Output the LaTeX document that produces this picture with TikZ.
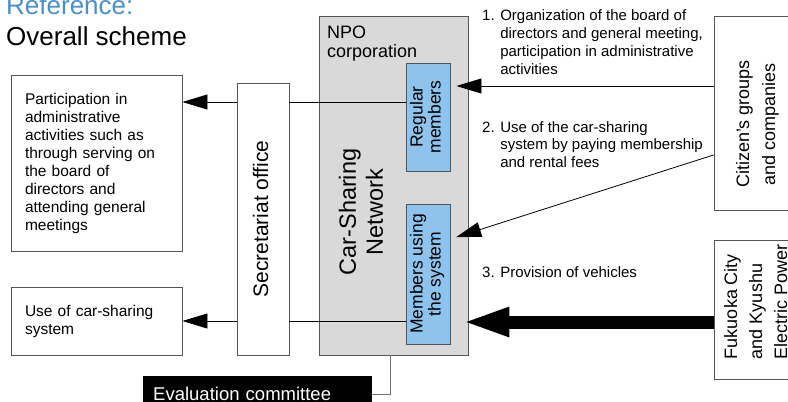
\documentclass[tikz,border=0pt]{standalone}
\usepackage{fontspec}
\setmainfont{Liberation Sans}
\usepackage{graphicx}
\usetikzlibrary{arrows.meta}
\definecolor{npogrey}{HTML}{D9D9D9}
\definecolor{memblue}{HTML}{8DC3EC}
\definecolor{edgegrey}{HTML}{555555}
\definecolor{titleblue}{HTML}{4A90C8}
\definecolor{evgrey}{HTML}{707070}
\newcommand{\rotlines}[4]{\rotatebox{90}{\fontsize{#1}{#2}\selectfont\begin{tabular}{@{}#3@{}}#4\end{tabular}}}
\begin{document}
\begin{tikzpicture}[x=1pt,y=-1pt,
  box/.style={draw=edgegrey, line width=0.9pt, fill=white, inner sep=0pt},
  bluebox/.style={draw=edgegrey, line width=0.9pt, fill=memblue, inner sep=0pt},
  leftbox/.style={box, minimum width=171pt, text width=143pt, inner xsep=14pt, align=left, font=\fontsize{15.5}{18}\selectfont},
  lbl/.style={anchor=base west, inner sep=0pt, font=\fontsize{15}{18}\selectfont},
  plainline/.style={draw=black, line width=0.8pt},
  thinarrow/.style={plainline, -{Triangle[length=25pt,width=15pt]}},
  bigarrow/.style={draw=black, line width=13pt, -{Triangle[length=43pt,width=31pt,line width=0pt]}},
  evline/.style={draw=evgrey, line width=0.9pt}]
\useasboundingbox (0,0) rectangle (788,402);
\clip (0,0) rectangle (788,402);
\fill[white] (0,0) rectangle (788,402);

% titles
\node[anchor=base west, inner sep=0pt, font=\fontsize{26}{30}\selectfont, text=titleblue] (ref) at (6,14) {Reference:};
\node[anchor=base west, inner sep=0pt, font=\fontsize{26}{30}\selectfont] (ovs) at (6,45) {Overall scheme};

% left boxes
\node[leftbox, minimum height=176pt] (part) at (96.5,163) {Participation in\\administrative\\activities such as\\through serving on\\the board of\\directors and\\attending general\\meetings};
\node[leftbox, minimum height=68pt] (use) at (96.5,321) {Use of car-sharing\\system};

% secretariat
\node[box, minimum width=52pt, minimum height=272pt] (sec) at (263,219) {\rotlines{21}{25}{c}{Secretariat office}};

% NPO corporation
\node[draw=edgegrey, fill=npogrey, line width=0.9pt, minimum width=149pt, minimum height=339pt, inner sep=0pt] (npo) at (393.5,185.5) {};
\node[anchor=base west, inner sep=0pt, font=\fontsize{18}{18.5}\selectfont] (npolbl) at (327,38.5) {\begin{tabular}[t]{@{}l@{}}NPO\\corporation\end{tabular}};
\node[inner sep=0pt] (csn) at (364,212) {\rotlines{23.5}{27}{c}{Car-Sharing\\Network}};
\node[bluebox, minimum width=44pt, minimum height=108pt] (reg) at (428,117) {\rotlines{17.5}{18}{c}{Regular\\members}};
\node[bluebox, minimum width=44pt, minimum height=140pt] (mem) at (428,274) {\rotlines{17.5}{18}{c}{Members using\\the system}};

% right boxes
\node[box, minimum width=86pt, minimum height=194pt] (cit) at (757,113) {\rotatebox{90}{\fontsize{18}{26}\selectfont\begin{tabular}{@{}c@{}}Citizen’s groups\\and companies\end{tabular}\hspace{22pt}}};
\node[box, minimum width=86pt, minimum height=139pt] (fuk) at (757,309.5) {\rotatebox{90}{\hspace{16pt}\fontsize{18}{25}\selectfont\begin{tabular}{@{}l@{}}Fukuoka City\\and Kyushu\\Electric Power\end{tabular}}};

% evaluation committee
\node[fill=black, text=white, anchor=north west, minimum width=229pt, minimum height=36pt, text width=209pt, inner xsep=10pt, inner ysep=0pt, align=left, font=\fontsize{18.5}{22}\selectfont] (eval) at (143,376) {Evaluation committee};

% labels
\node[lbl] (l1) at (482,20.5) {\begin{tabular}[t]{@{}l@{ }l@{}}1.&Organization of the board of\\&directors and general meeting,\\&participation in administrative\\&activities\end{tabular}};
\node[lbl, font=\fontsize{15}{17.5}\selectfont] (l2) at (482,132) {\begin{tabular}[t]{@{}l@{ }l@{}}2.&Use of the car-sharing\\&system by paying membership\\&and rental fees\end{tabular}};
\node[lbl] (l3) at (482,277) {3. Provision of vehicles};

% connector levels
\coordinate (ya) at (0,86);
\coordinate (yb) at (0,102);
\coordinate (yc) at (0,321);
\coordinate (yd) at (0,322);
\coordinate (ye) at (0,155);
\coordinate (yf) at (0,239);

% connectors
\draw[thinarrow, shorten >=6pt] (cit.west |- ya) -- (reg.east |- ya);
\draw[thinarrow, shorten >=6pt] (cit.west |- ye) -- (mem.east |- yf);
\draw[plainline] (reg.west |- yb) -- (sec.east |- yb);
\draw[thinarrow] (sec.west |- yb) -- (part.east |- yb);
\draw[plainline] (mem.west |- yc) -- (sec.east |- yc);
\draw[thinarrow] (sec.west |- yc) -- (use.east |- yc);
\draw[bigarrow, shorten >=-2pt] (fuk.west |- yd) -- (npo.east |- yd);
\draw[evline] (eval.east) -| ([xshift=-3.5pt]npo.south);
\end{tikzpicture}
\end{document}
